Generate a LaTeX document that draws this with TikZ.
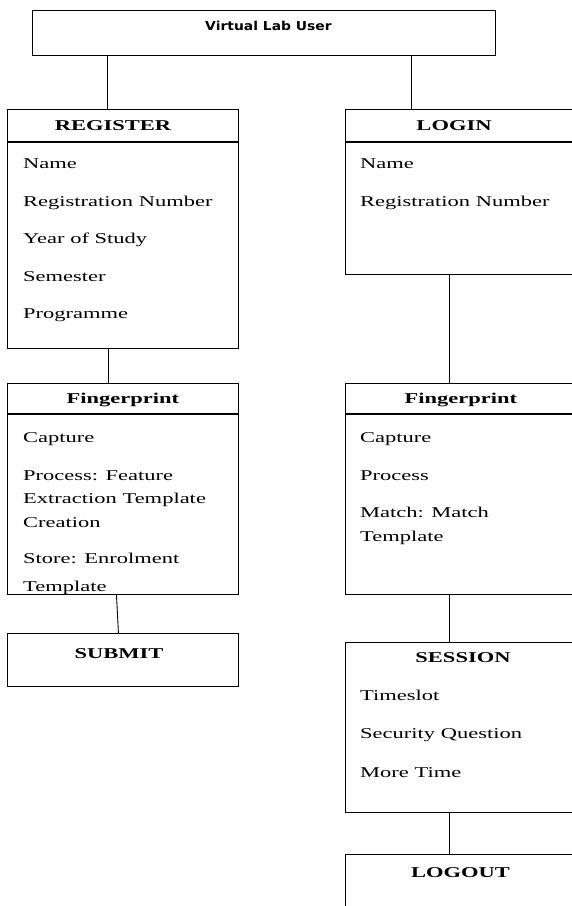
\documentclass[tikz,border=0pt]{standalone}
\usepackage{fontspec}
\setmainfont{Liberation Serif}[FakeStretch=1.5]
\newfontfamily\toplabelfont{DejaVu Sans}[FakeStretch=1.13]
\usetikzlibrary{positioning, calc}
\tikzset{
	hbox/.style ={rectangle, draw=black, line width=0.9pt, anchor=north west, inner sep=0pt, text centered, text height=10pt, text depth=0pt, font=\fontsize{15}{18}\selectfont\bfseries},
	bbox/.style ={rectangle, draw=black, line width=0.9pt, anchor=north west, inner sep=0pt},
	item/.style ={anchor=base west, inner sep=0pt, font=\fontsize{15}{18}\selectfont},
	title/.style={anchor=base, inner sep=0pt, font=\fontsize{15}{18}\selectfont\bfseries},
	link/.style ={draw=black, line width=0.9pt},
}
\begin{document}
\begin{tikzpicture}[x=1pt, y=-1pt]
	\useasboundingbox (0,0) rectangle (571,906);
	\node[bbox, minimum width=463pt, minimum height=45pt] (user) at (32,10) {};
	\node[anchor=base, inner sep=0pt, font=\toplabelfont\fontsize{12.3}{14}\selectfont\bfseries] (usertxt) at (268.5,30) {Virtual Lab User};
	% left column
	\node[hbox, minimum width=231pt, minimum height=32pt] (reghead) at (7,109) {};
	\node[title] (regtxt) at (113,130) {REGISTER};
	\node[bbox, minimum width=231pt, minimum height=206pt] (regbody) at (reghead.south west) {};
	\foreach \txt/\yy [count=\i] in {Name/168, Registration Number/206, Year of Study/243.5, Semester/281, Programme/318.5}
		\node[item] (reg\i) at (23,\yy) {\txt};
	\node[hbox, minimum width=231pt, minimum height=30pt] (fplhead) at (7,383) {Fingerprint};
	\node[bbox, minimum width=231pt, minimum height=180pt] (fplbody) at (fplhead.south west) {};
	\begin{scope}
		\clip (fplbody.north west) rectangle (fplbody.south east);
		\foreach \txt/\yy [count=\i] in {Capture/442, Process: Feature/480, Extraction Template/503.5, Creation/527, Store: Enrolment/563, Template/591}
			\node[item] (fpl\i) at (23,\yy) {\txt};
	\end{scope}
	\node[bbox, minimum width=231pt, minimum height=53pt] (submit) at (7,633) {};
	\node[title] (submittxt) at (119,658) {SUBMIT};
	% right column
	\node[hbox, minimum width=231pt, minimum height=32pt] (loginhead) at (345,109) {};
	\node[title] (logintxt) at (454,130) {LOGIN};
	\node[bbox, minimum width=231pt, minimum height=132pt] (loginbody) at (loginhead.south west) {};
	\foreach \txt/\yy [count=\i] in {Name/168, Registration Number/206}
		\node[item] (login\i) at (360,\yy) {\txt};
	\node[hbox, minimum width=231pt, minimum height=30pt] (fprhead) at (345,383) {Fingerprint};
	\node[bbox, minimum width=231pt, minimum height=180pt] (fprbody) at (fprhead.south west) {};
	\foreach \txt/\yy [count=\i] in {Capture/442, Process/480, Match: Match/517, Template/541}
		\node[item] (fpr\i) at (360,\yy) {\txt};
	\node[bbox, minimum width=231pt, minimum height=170pt] (session) at (345,642) {};
	\node[title] (sessiontxt) at (463,662) {SESSION};
	\foreach \txt/\yy [count=\i] in {Timeslot/700, Security Question/738, More Time/777}
		\node[item] (sess\i) at (360,\yy) {\txt};
	\node[bbox, minimum width=231pt, minimum height=112pt] (logout) at (345,854) {};
	\node[title] (logouttxt) at (460.5,877) {LOGOUT};
	% connectors
	\draw[link] ([xshift=-15.5pt]reghead.north |- user.south) -- ([xshift=-15.5pt]reghead.north);
	\draw[link] ([xshift=-49.5pt]loginhead.north |- user.south) -- ([xshift=-49.5pt]loginhead.north);
	\draw[link] ([xshift=-14.5pt]regbody.south) -- ([xshift=-14.5pt]fplhead.north);
	\draw[link] ([xshift=-6.5pt]fplbody.south) -- ([xshift=-4.5pt]submit.north);
	\draw[link] ([xshift=-11.5pt]loginbody.south) -- ([xshift=-11.5pt]fprhead.north);
	\draw[link] ([xshift=-11.5pt]fprbody.south) -- ([xshift=-11.5pt]session.north);
	\draw[link] ([xshift=-11.5pt]session.south) -- ([xshift=-11.5pt]logout.north);
\end{tikzpicture}
\end{document}
